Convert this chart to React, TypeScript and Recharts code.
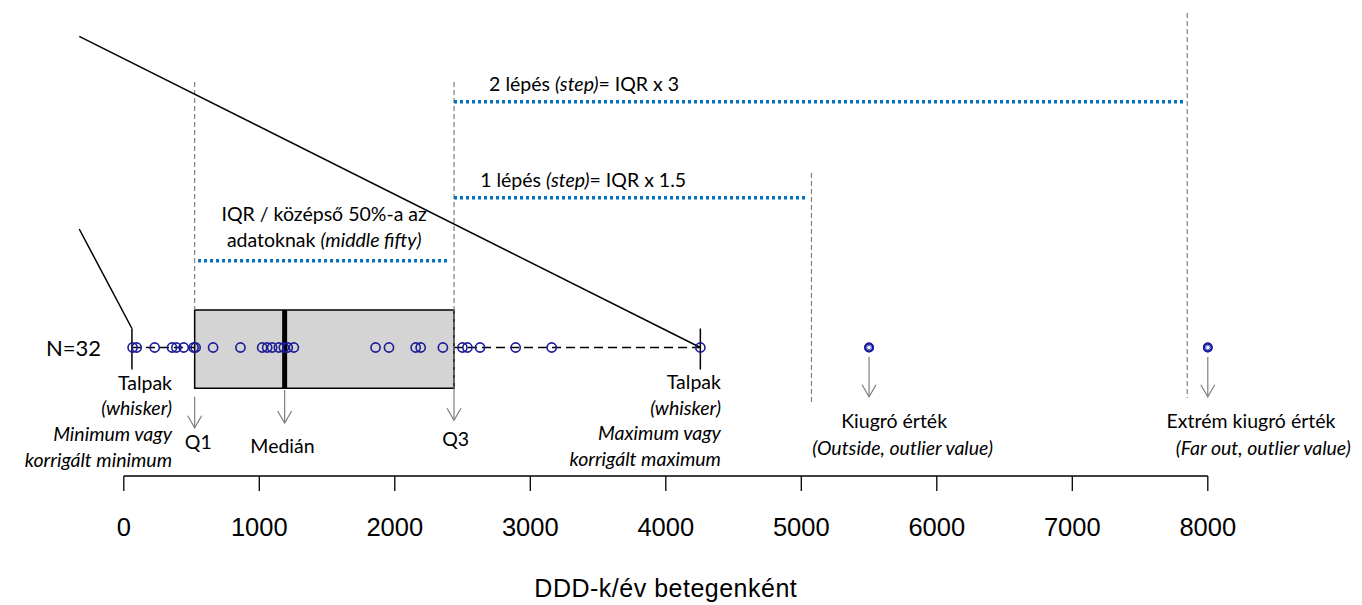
import React from 'react';
import {
  ComposedChart,
  Scatter,
  XAxis,
  YAxis,
  ReferenceLine,
  ReferenceArea,
  ReferenceDot,
  Label,
} from 'recharts';

// Yearly DDD per patient, one value per patient (N = 32)
const insideValues = [
  65, 95, 228, 356, 388, 442, 515, 530, 659, 861, 1021, 1058, 1095, 1144, 1181, 1210,
  1255, 1858, 1957, 2154, 2191, 2355, 2499, 2536, 2629, 2892, 3158, 4255,
];
const outsideValues = [5500, 5500];
const farOutValues = [8000, 8000];

// Box-plot summary
const whiskerLow = 60;
const q1 = 523;
const median = 1187;
const q3 = 2437;
const whiskerHigh = 4255;
const innerFence = 5075;
const outerFence = 7848;

const axisTicks = [0, 1000, 2000, 3000, 4000, 5000, 6000, 7000, 8000];

// Vertical layout: the hidden Y axis measures height above the X axis line.
const STRIP = 128.5;
const BOX_TOP = 166;
const BOX_BOTTOM = 87.7;
const WHISKER_TOP = 147.5;
const WHISKER_BOTTOM = 106.5;

const insideData = insideValues.map((x) => ({ x, y: STRIP }));
const outsideData = outsideValues.map((x) => ({ x, y: STRIP }));
const farOutData = farOutValues.map((x) => ({ x, y: STRIP }));

const NOTE_FONT = 'Lato, "Open Sans", sans-serif';
const ARIAL = '"Liberation Sans", Arial, sans-serif';
const NOTE_SIZE = 19.5;
const NAVY = '#1c1c96';
const GREY = '#7f7f7f';
const BLUE = '#0070C0';

type Seg = [string, boolean?];
type Line = Seg[];

const textShape =
  (lines: Line[], anchor: 'start' | 'middle' | 'end', size = NOTE_SIZE, gap = 25.8) =>
  (p: any) => (
    <text
      x={p.cx}
      y={p.cy}
      textAnchor={anchor}
      dominantBaseline="central"
      fontFamily={NOTE_FONT}
      fontSize={size}
      fill="#000"
    >
      {lines.map((line, i) => (
        <tspan key={i} x={p.cx} y={p.cy + i * gap}>
          {line.map(([t, it], j) => (
            <tspan key={j} fontStyle={it ? 'italic' : 'normal'}>
              {t}
            </tspan>
          ))}
        </tspan>
      ))}
    </text>
  );

const arrowShape = (len: number) => (p: any) => {
  const { cx, cy } = p;
  const tip = cy + len;
  return (
    <g stroke={GREY} strokeWidth={1.2} fill="none">
      <line x1={cx} y1={cy} x2={cx} y2={tip} />
      <polyline points={`${cx - 7},${tip - 12} ${cx},${tip} ${cx + 7},${tip - 12}`} />
    </g>
  );
};

const ringShape = (p: any) => (
  <circle cx={p.cx} cy={p.cy} r={4.6} fill="none" stroke={NAVY} strokeWidth={1.6} />
);

const outlierShape = (p: any) => (
  <g>
    <circle cx={p.cx} cy={p.cy} r={3.8} fill="#fff" stroke={NAVY} strokeWidth={2.2} />
    <circle cx={p.cx} cy={p.cy} r={2.2} fill="none" stroke="#3a5fd0" strokeWidth={1} />
  </g>
);

const TickLabel = (p: any) => (
  <text
    x={p.x}
    y={p.y}
    textAnchor="middle"
    dominantBaseline="central"
    fontFamily={ARIAL}
    fontSize={25.5}
    fill="#000"
  >
    {p.payload.value}
  </text>
);

const note = (
  key: string,
  x: number,
  y: number,
  lines: Line[],
  anchor: 'start' | 'middle' | 'end',
  size?: number,
) => (
  <ReferenceDot
    key={key}
    x={x}
    y={y}
    r={0}
    ifOverflow="visible"
    shape={textShape(lines, anchor, size)}
  />
);

const arrow = (key: string, x: number, y: number, len: number) => (
  <ReferenceDot key={key} x={x} y={y} r={0} ifOverflow="visible" shape={arrowShape(len)} />
);

const greyDash = { stroke: GREY, strokeWidth: 1.2, strokeDasharray: '5 3' };
const blueDots = { stroke: BLUE, strokeWidth: 3.5, strokeDasharray: '3 3' };
const whiskerDash = { stroke: '#000', strokeWidth: 1.3, strokeDasharray: '9 5' };

export default function App() {
  return (
    <div style={{ position: 'absolute', left: 0, top: 0, background: '#fff' }}>
      <ComposedChart
        width={1362}
        height={605}
        margin={{ top: 0, right: 154.2, bottom: 0, left: 123.8 }}
      >
        <XAxis
          type="number"
          dataKey="x"
          domain={[0, 8000]}
          ticks={axisTicks}
          interval={0}
          height={129}
          tickSize={15}
          tickMargin={36}
          axisLine={{ stroke: '#000', strokeWidth: 1.3 }}
          tickLine={{ stroke: '#000', strokeWidth: 1.3 }}
          tick={<TickLabel />}
        >
          <Label
            value="DDD-k/év betegenként"
            position="insideBottom"
            offset={8}
            style={{ fontFamily: ARIAL, fontSize: 25, letterSpacing: 0.5, fill: '#000' }}
          />
        </XAxis>
        <YAxis type="number" dataKey="y" domain={[0, 476]} hide />

        {/* Interquartile box */}
        <ReferenceArea
          x1={q1}
          x2={q3}
          y1={BOX_BOTTOM}
          y2={BOX_TOP}
          fill="#d4d4d4"
          fillOpacity={1}
          stroke="#000"
          strokeWidth={1.5}
          ifOverflow="visible"
        />

        {/* Whisker range, dashed, outside the box */}
        <ReferenceLine segment={[{ x: whiskerLow, y: STRIP }, { x: q1, y: STRIP }]} {...whiskerDash} ifOverflow="visible" />
        <ReferenceLine segment={[{ x: q3, y: STRIP }, { x: whiskerHigh, y: STRIP }]} {...whiskerDash} ifOverflow="visible" />
        <ReferenceLine
          segment={[{ x: whiskerLow, y: WHISKER_BOTTOM }, { x: whiskerLow, y: WHISKER_TOP }]}
          stroke="#000"
          strokeWidth={1.5}
          ifOverflow="visible"
        />
        <ReferenceLine
          segment={[{ x: whiskerHigh, y: WHISKER_BOTTOM }, { x: whiskerHigh, y: WHISKER_TOP }]}
          stroke="#000"
          strokeWidth={1.5}
          ifOverflow="visible"
        />
        <ReferenceLine
          segment={[{ x: median, y: BOX_BOTTOM }, { x: median, y: BOX_TOP }]}
          stroke="#000"
          strokeWidth={5}
          ifOverflow="visible"
        />

        {/* Quartile and fence guides */}
        <ReferenceLine segment={[{ x: q1, y: 394 }, { x: q1, y: BOX_TOP }]} {...greyDash} ifOverflow="visible" />
        <ReferenceLine segment={[{ x: q3, y: 394 }, { x: q3, y: BOX_BOTTOM }]} {...greyDash} ifOverflow="visible" />
        <ReferenceLine segment={[{ x: innerFence, y: 303 }, { x: innerFence, y: 73 }]} {...greyDash} ifOverflow="visible" />
        <ReferenceLine segment={[{ x: outerFence, y: 463 }, { x: outerFence, y: 78 }]} {...greyDash} ifOverflow="visible" />

        {/* Step distances */}
        <ReferenceLine segment={[{ x: q1 + 25, y: 215.3 }, { x: q3 - 47, y: 215.3 }]} {...blueDots} ifOverflow="visible" />
        <ReferenceLine segment={[{ x: q3, y: 278.3 }, { x: innerFence - 30, y: 278.3 }]} {...blueDots} ifOverflow="visible" />
        <ReferenceLine segment={[{ x: q3, y: 374.3 }, { x: outerFence - 20, y: 374.3 }]} {...blueDots} ifOverflow="visible" />

        {/* Leader lines to the whisker ends */}
        <ReferenceLine
          segment={[{ x: -329, y: 439.7 }, { x: whiskerHigh, y: STRIP }]}
          stroke="#000"
          strokeWidth={1.5}
          ifOverflow="visible"
        />
        <ReferenceLine
          segment={[{ x: -329, y: 247 }, { x: whiskerLow, y: WHISKER_TOP }]}
          stroke="#000"
          strokeWidth={1.5}
          ifOverflow="visible"
        />

        <Scatter data={insideData} shape={ringShape} isAnimationActive={false} />
        <Scatter data={outsideData} shape={outlierShape} isAnimationActive={false} />
        <Scatter data={farOutData} shape={outlierShape} isAnimationActive={false} />

        {/* Arrows */}
        {arrow('a-q1', q1, 79.3, 31)}
        {arrow('a-med', median, 86, 33)}
        {arrow('a-q3', q3, 87.7, 32)}
        {arrow('a-out', outsideValues[0], 119.3, 40)}
        {arrow('a-far', farOutValues[0], 119.3, 40)}

        {/* Annotations */}
        {note('n-step2', 2696, 393.3, [[['2 lépés '], ['(step)', true], ['= IQR x 3']]], 'start')}
        {note('n-step1', 2630, 296.7, [[['1 lépés '], ['(step)', true], ['= IQR x 1.5']]], 'start')}
        {note(
          'n-iqr',
          1479,
          262.7,
          [[['IQR / középső 50%-a az']], [['adatoknak '], ['(middle fifty)', true]]],
          'middle',
        )}
        {note('n-n', -168, 129.3, [[['N=32']]], 'end', 22)}
        {note(
          'n-min',
          356,
          94.5,
          [[['Talpak']], [['(whisker)', true]], [['Minimum vagy', true]], [['korrigált minimum', true]]],
          'end',
        )}
        {note(
          'n-max',
          4407,
          95.3,
          [[['Talpak']], [['(whisker)', true]], [['Maximum vagy', true]], [['korrigált maximum', true]]],
          'end',
        )}
        {note('n-q1', 550, 35, [[['Q1']]], 'middle')}
        {note('n-med', 1171, 31, [[['Medián']]], 'middle')}
        {note('n-q3', 2449, 38, [[['Q3']]], 'middle')}
        {note('n-out1', 5685, 56, [[['Kiugró érték']]], 'middle')}
        {note('n-out2', 5748, 29.3, [[['(Outside, outlier value)', true]]], 'middle')}
        {note('n-far1', 8319, 56, [[['Extrém kiugró érték']]], 'middle')}
        {note('n-far2', 8410, 29.3, [[['(Far out, outlier value)', true]]], 'middle')}
      </ComposedChart>
    </div>
  );
}
